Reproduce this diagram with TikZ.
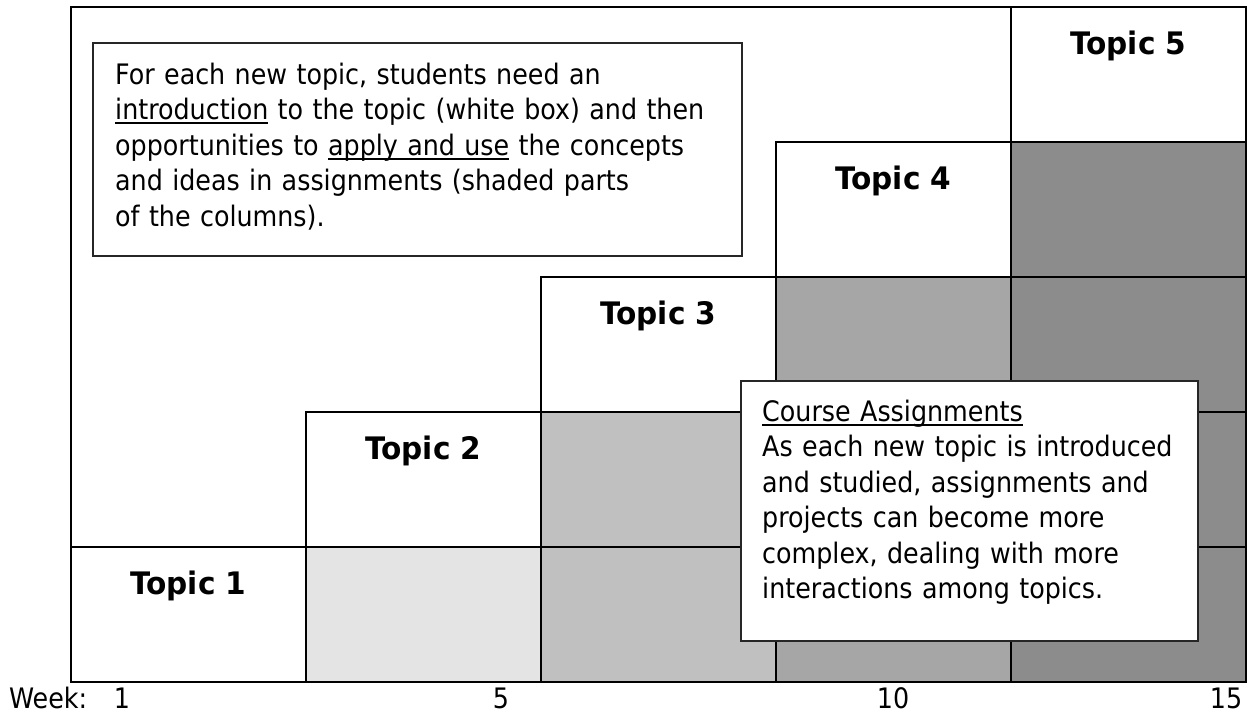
\documentclass[tikz,border=0pt]{standalone}
\usepackage{fontspec}
\setmainfont{DejaVu Sans Condensed}[BoldFont={DejaVu Sans Condensed Bold}]
\newfontfamily\topicfont{DejaVu Sans Condensed Bold}[FakeStretch=1.06]
\newlength{\myulw}
\newcommand{\myul}[1]{\leavevmode\settowidth{\myulw}{#1}\rlap{\rule[-4.5pt]{\myulw}{2pt}}#1}
\definecolor{shadeA}{HTML}{E4E4E4}
\definecolor{shadeB}{HTML}{C0C0C0}
\definecolor{shadeC}{HTML}{A6A6A6}
\definecolor{shadeD}{HTML}{8C8C8C}
\begin{document}
\begin{tikzpicture}[x=1pt,y=-1pt,
  cell/.style={draw=black, line width=2pt, minimum width=235pt, minimum height=135pt, inner sep=0pt, outer sep=0pt, anchor=north west},
  topiccell/.style={cell, fill=white},
  topic/.style={font=\fontsize{31}{36}\topicfont, inner sep=0pt, anchor=base},
  note/.style={draw=black!85, line width=2pt, fill=white, inner sep=0pt, outer sep=0pt, anchor=north west},
  notetext/.style={font=\fontsize{28.2}{35.5}\selectfont, inner sep=0pt, anchor=north west, align=left},
  week/.style={font=\fontsize{28.2}{35.5}\selectfont, inner sep=0pt, anchor=base}
]
\useasboundingbox (0,0) rectangle (1248,715);
% column 2
\node[cell, fill=shadeA] (c21) at (306,546.5) {};
% column 3
\node[cell, fill=shadeB] (c31) at (541,546.5) {};
\node[cell, fill=shadeB] (c32) at (541,411.5) {};
% column 4
\node[cell, fill=shadeC] (c41) at (776,546.5) {};
\node[cell, fill=shadeC] (c42) at (776,411.5) {};
\node[cell, fill=shadeC] (c43) at (776,276.5) {};
% column 5
\node[cell, fill=shadeD] (c51) at (1011,546.5) {};
\node[cell, fill=shadeD] (c52) at (1011,411.5) {};
\node[cell, fill=shadeD] (c53) at (1011,276.5) {};
\node[cell, fill=shadeD] (c54) at (1011,141.5) {};
% topic cells
\node[topiccell] (t1) at (71,546.5) {};
\node[topiccell] (t2) at (306,411.5) {};
\node[topiccell] (t3) at (541,276.5) {};
\node[topiccell] (t4) at (776,141.5) {};
\node[topiccell] (t5) at (1011,6.5) {};
\node[topic] (l1) at ([yshift=-48pt]t1.north) {Topic 1};
\node[topic] (l2) at ([yshift=-48pt]t2.north) {Topic 2};
\node[topic] (l3) at ([yshift=-48pt]t3.north) {Topic 3};
\node[topic] (l4) at ([yshift=-48pt]t4.north) {Topic 4};
\node[topic] (l5) at ([yshift=-48pt]t5.north) {Topic 5};
% outer frame
\draw[line width=2pt] (71,6.5) rectangle (1246,681.5);
% intro note
\node[note, minimum width=649pt, minimum height=213pt] (intro) at (93,43) {};
\node[notetext, text width=625pt] (introtext) at (115,62) {\rule{0pt}{22pt}For each new topic, students need an\\
\myul{introduction} to the topic (white box) and then\\
opportunities to \myul{apply and use} the concepts\\
and ideas in assignments (shaded parts\\
of the columns).};
% course note
\node[note, minimum width=457pt, minimum height=260pt] (course) at (741,381) {};
\node[notetext, text width=430pt] (coursetext) at (762,399) {\rule{0pt}{22pt}\myul{Course Assignments}\\
As each new topic is introduced\\
and studied, assignments and\\
projects can become more\\
complex, dealing with more\\
interactions among topics.};
% week labels
\node[week, anchor=base west] (weeklbl) at (9,708) {Week:};
\node[week] (w1) at (122,708) {1};
\node[week] (w5) at (501,708) {5};
\node[week] (w10) at (893,708) {10};
\node[week] (w15) at (1226,708) {15};
\end{tikzpicture}
\end{document}
